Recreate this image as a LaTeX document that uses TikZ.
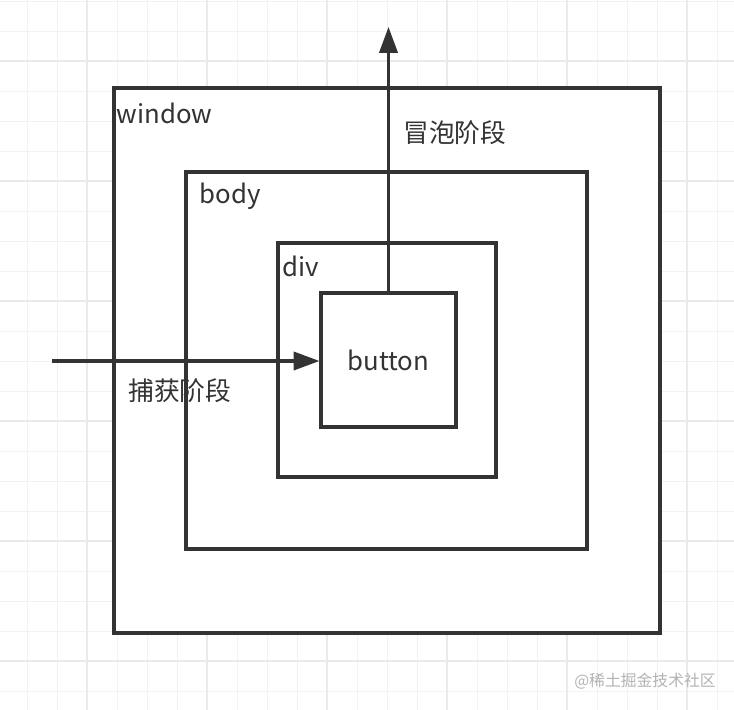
\documentclass[tikz,border=0pt]{standalone}
\usepackage{fontspec}
\setmainfont{Noto Sans CJK SC}
\usetikzlibrary{arrows.meta, positioning, calc}
\definecolor{ink}{HTML}{333333}
\definecolor{gridminor}{HTML}{F2F2F2}
\definecolor{gridmajor}{HTML}{EAEAEA}

\begin{document}
\begin{tikzpicture}[x=0.03cm, y=-0.03cm, font=\fontsize{22}{26}\selectfont, >={Triangle[length=22pt, width=15.5pt]},
  layer/.style={draw=ink, line width=2.6pt, fill=white, inner sep=0pt, text=ink},
  tag/.style={anchor=west, inner sep=0pt, text=ink},
  phase/.style={draw=ink, line width=2.6pt, ->}]
% background grid
\useasboundingbox (0,0) rectangle (734,710);
\foreach \gx in {27,57,...,717} \draw[gridminor, line width=0.8pt] (\gx,0) -- (\gx,710);
\foreach \gy in {1,31,...,691} \draw[gridminor, line width=0.8pt] (0,\gy) -- (734,\gy);
\foreach \gx in {87,207,...,687} \draw[gridmajor, line width=0.9pt] (\gx,0) -- (\gx,710);
\foreach \gy in {61,181,...,661} \draw[gridmajor, line width=0.9pt] (0,\gy) -- (734,\gy);
% nested boxes
\node[layer, minimum width=16.38cm, minimum height=16.35cm] (win) at (387,360.5) {};
\node[layer, minimum width=12.03cm, minimum height=11.31cm] (body) at (386.5,360.5) {};
\node[layer, minimum width=6.54cm, minimum height=7.02cm] (div) at (387,360) {};
\node[layer, minimum width=4.05cm, minimum height=4.02cm] (btn) at (388.5,360) {button};
\node[tag] (winlbl) at ($(win.north west)+(4,27)$) {window};
\node[tag] (bodylbl) at ($(body.north west)+(15,26)$) {body};
\node[tag] (divlbl) at ($(div.north west)+(6,25)$) {div};
% capture / bubble
\coordinate (capin) at (52,361);
\coordinate (bubout) at (388.5,27);
\draw[phase] (capin) -- (btn.west |- capin);
\draw[phase] (btn.north) -- (bubout);
\node[tag] (caplbl) at (128,391) {捕获阶段};
\node[tag] (bublbl) at (403,133) {冒泡阶段};
\node[text=black!30, font=\fontsize{13.5}{16}\selectfont] (mark) at (645,681) {@稀土掘金技术社区};
\end{tikzpicture}
\end{document}
